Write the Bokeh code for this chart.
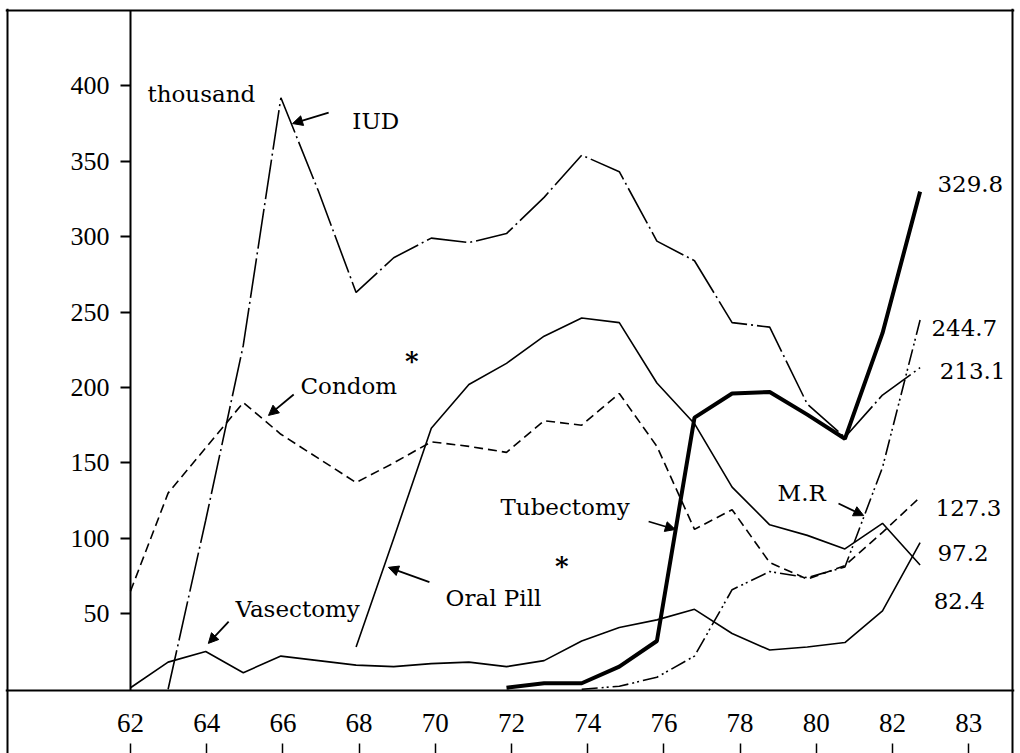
from bokeh.plotting import figure
from bokeh.models import (Range1d, LinearAxis, FixedTicker, Label, Arrow,
                          NormalHead, Span)
from bokeh.embed import file_html
from bokeh.resources import INLINE

# ---------------- data (thousand acceptors) ----------------
iud_years = list(range(63, 84))
iud = [0, 112, 228, 392, 330, 263, 286, 299, 296, 302, 326, 354, 343, 297,
       284, 243, 240, 189, 167, 195, 213.1]

condom_years = list(range(62, 84))
condom = [65, 130, 160, 190, 169, 153, 137, 150, 164, 161, 157, 178, 175, 196,
          161, 106, 119, 84, 73, 82, 104, 127.3]

pill_years = list(range(68, 84))
pill = [28, 100, 173, 202, 216, 234, 246, 243, 203, 176, 134, 109, 102, 93,
        110, 82.4]

vas_years = list(range(62, 84))
vasectomy = [1, 18, 25, 11, 22, 19, 16, 15, 17, 18, 15, 19, 32, 41, 46, 53,
             37, 26, 28, 31, 52, 97.2]

tub_years = list(range(72, 84))
tubectomy = [1, 4, 4, 15, 32, 180, 196, 197, 182, 166, 236, 329.8]

mr_years = list(range(74, 84))
mr = [0, 2, 8, 22, 66, 78, 74, 81, 147, 244.7]

x_tick_pos = [62, 64, 66, 68, 70, 72, 74, 76, 78, 80, 82, 84]
x_tick_labels = ["62", "64", "66", "68", "70", "72", "74", "76", "78", "80",
                 "82", "83"]
y_ticks = [50, 100, 150, 200, 250, 300, 350, 400]
y_tick_labels = ["50", "100", "150", "200", "250", "300", "350", "400"]

end_labels = ["329.8", "244.7", "213.1", "127.3", "97.2", "82.4"]

# ---------------- geometry helpers (layout only) ----------------
W, H = 1020, 753
FL, FR, FT, FB = 5, 1014, 8, 753        # plotting frame in canvas px
X0PX, XPX, XTPX = 130, 37.6, 38.1       # year 62 position, px per year
Y0PX, YPX = 690, 1.509                  # axis line position, px per unit
Y_AT_AXIS = -0.8


def px2x(px, scale=XPX):
    return 62 + (px - X0PX) / scale


def px2y(py):
    return Y_AT_AXIS + (Y0PX - py) / YPX


p = figure(width=W, height=H, output_backend="svg", toolbar_location=None,
           x_range=Range1d(px2x(FL), px2x(FR)),
           y_range=Range1d(px2y(FB), px2y(FT)),
           x_axis_type=None, y_axis_type=None,
           min_border_left=FL, min_border_right=W - FR,
           min_border_top=FT, min_border_bottom=H - FB)
p.extra_x_ranges = {"xt": Range1d(px2x(FL, XTPX), px2x(FR, XTPX))}
p.background_fill_color = "white"
p.border_fill_color = "white"
p.outline_line_color = None

# outer box
p.add_layout(Span(location=px2x(7), dimension="height", line_color="black",
                  line_width=2))
p.add_layout(Span(location=px2x(1012), dimension="height", line_color="black",
                  line_width=2))
p.add_layout(Span(location=px2y(10), dimension="width", line_color="black",
                  line_width=2))

# y axis drawn at year 62
yax = LinearAxis(fixed_location=62, bounds=(px2y(690), px2y(10)),
                 ticker=FixedTicker(ticks=y_ticks),
                 major_label_overrides=dict(zip(y_ticks, y_tick_labels)),
                 axis_line_color="black", axis_line_width=2,
                 major_tick_in=0, major_tick_out=10,
                 major_tick_line_width=2, minor_tick_line_color=None,
                 major_label_standoff=11,
                 major_label_text_font="Liberation Serif",
                 major_label_text_font_size="26px",
                 major_label_text_color="black")
p.add_layout(yax, "left")

# x axis line + labels
xax = LinearAxis(x_range_name="xt", fixed_location=Y_AT_AXIS,
                 ticker=FixedTicker(ticks=x_tick_pos),
                 major_label_overrides=dict(zip(x_tick_pos, x_tick_labels)),
                 axis_line_color="black", axis_line_width=2,
                 major_tick_out=0, major_tick_in=0,
                 minor_tick_line_color=None,
                 major_label_standoff=23,
                 major_label_text_font="Liberation Serif",
                 major_label_text_font_size="27px",
                 major_label_text_color="black")
p.add_layout(xax, "below")

# tick marks under the labels
xtk = LinearAxis(x_range_name="xt", fixed_location=px2y(743),
                 ticker=FixedTicker(ticks=x_tick_pos),
                 axis_line_color=None, major_tick_out=12, major_tick_in=0,
                 major_tick_line_width=1.5, minor_tick_line_color=None,
                 major_label_text_color=None,
                 major_label_text_font_size="10px")
p.add_layout(xtk, "below")

# ---------------- series ----------------
p.line(condom_years, condom, line_color="black", line_width=1.6,
       line_dash="9 5")
p.line(iud_years, iud, line_color="black", line_width=1.6,
       line_dash="40 4 2 4")
p.line(pill_years, pill, line_color="black", line_width=1.6)
p.line(vas_years, vasectomy, line_color="black", line_width=1.6)
p.line(mr_years, mr, line_color="black", line_width=1.6,
       line_dash="16 4 2 3 2 4")
p.line(tub_years, tubectomy, line_color="black", line_width=4)

# ---------------- texts ----------------
FONT = "DejaVu Serif"


def lab(text, x, y, size="23px", align="left", bold=False):
    p.add_layout(Label(x=x, y=y, text=text, text_font=FONT,
                       text_font_size=size, text_align=align,
                       text_baseline="alphabetic", text_color="black",
                       text_font_style="bold" if bold else "normal"))


lab("thousand", 62.45, 394.8)
lab("IUD", 67.9, 376.8)
lab("Condom", 66.52, 201.3)
lab("*", 69.3, 217.5, size="26px", bold=True)
lab("Vasectomy", 64.79, 53.5)
lab("Oral Pill", 70.38, 60.8)
lab("*", 73.47, 82.0, size="26px", align="center", bold=True)
lab("Tubectomy", 71.84, 121.1)
lab("M.R", 79.21, 130.4)

end_pos = [(83.46, 335.1), (83.30, 239.1), (83.52, 210.8),
           (83.41, 120.4), (83.46, 90.0), (83.36, 58.5)]
for t, (x, y) in zip(end_labels, end_pos):
    lab(t, x, y)

# ---------------- arrows ----------------
arrows = [((67.27, 382.2), (66.31, 374.9)),
          ((66.34, 195.4), (65.67, 181.5)),
          ((64.61, 44.9), (64.07, 30.4)),
          ((69.95, 71.0), (68.86, 80.8)),
          ((75.78, 111.2), (76.49, 105.9)),
          ((80.83, 123.1), (81.50, 115.1))]
for (xs, ys), (xe, ye) in arrows:
    p.add_layout(Arrow(end=NormalHead(size=10, fill_color="black",
                                      line_color="black", line_width=1),
                       x_start=xs, y_start=ys, x_end=xe, y_end=ye,
                       line_width=1.8, line_color="black"))

open("out.html", "w").write(file_html(p, INLINE))
